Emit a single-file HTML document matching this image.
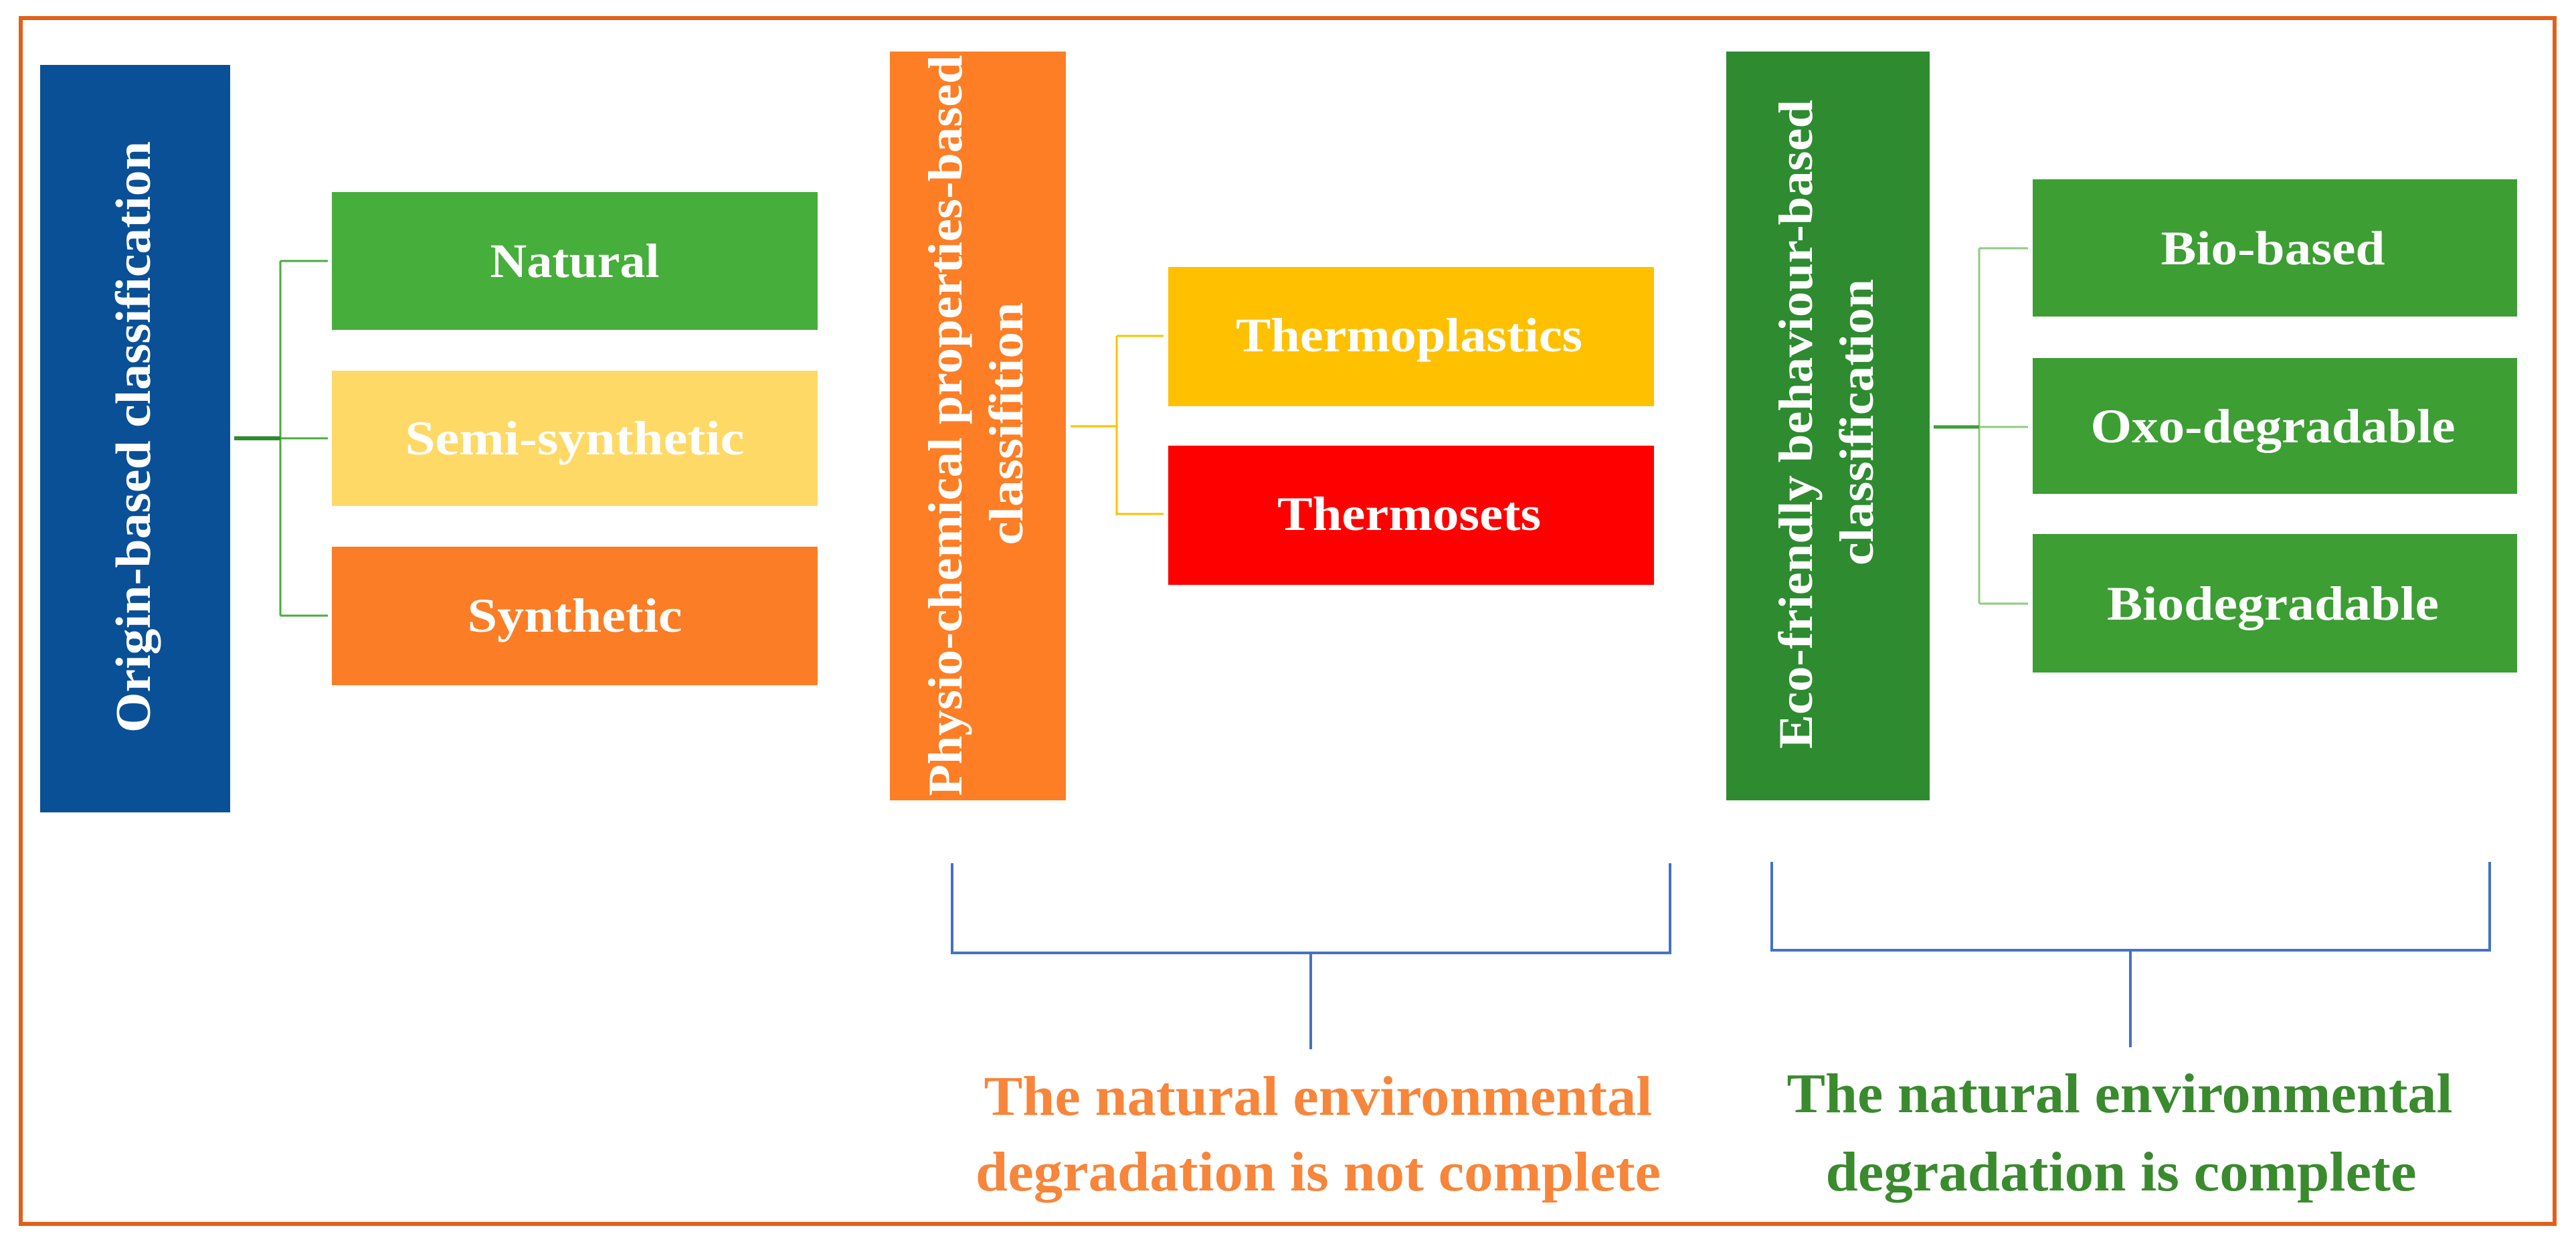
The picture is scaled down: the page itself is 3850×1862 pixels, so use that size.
<!DOCTYPE html>
<html><head><meta charset="utf-8"><style>html,body{margin:0;padding:0;background:#fff}svg{display:block}</style></head>
<body>
<svg width="3850" height="1862" viewBox="0 0 3850 1862" xmlns="http://www.w3.org/2000/svg" font-family="'Liberation Serif', serif" font-weight="bold">
<rect x="0" y="0" width="3850" height="1862" fill="#fff"/>
<rect x="31" y="27" width="3787" height="1802" fill="none" stroke="#E2601A" stroke-width="6"/>

<!-- Left section -->
<rect x="60" y="97" width="284" height="1117" fill="#0A5097"/>
<text transform="translate(224,653) rotate(-90)" text-anchor="middle" font-size="74" fill="#fff" textLength="884" lengthAdjust="spacingAndGlyphs">Origin-based classification</text>
<g stroke="#46AE3A" stroke-width="3" fill="none">
<path d="M419 390 V920 M419 390 H490 M419 655 H490 M419 920 H490"/>
</g>
<line x1="350" y1="655" x2="419" y2="655" stroke="#2E8B30" stroke-width="6"/>
<rect x="496" y="287" width="726" height="206" fill="#46AE3A"/>
<rect x="496" y="554" width="726" height="202" fill="#FFD966"/>
<rect x="496" y="817" width="726" height="207" fill="#FB7D25"/>
<g fill="#fff" font-size="72" text-anchor="middle">
<text x="859" y="414" textLength="253" lengthAdjust="spacingAndGlyphs">Natural</text>
<text x="859" y="679" textLength="507" lengthAdjust="spacingAndGlyphs">Semi-synthetic</text>
<text x="859" y="944" textLength="321" lengthAdjust="spacingAndGlyphs">Synthetic</text>
</g>

<!-- Middle section -->
<rect x="1330" y="77" width="263" height="1119" fill="#FD7E25"/>
<text transform="translate(1437,636) rotate(-90)" text-anchor="middle" font-size="72" fill="#fff" textLength="1107" lengthAdjust="spacingAndGlyphs">Physio-chemical properties-based</text>
<text transform="translate(1528,633) rotate(-90)" text-anchor="middle" font-size="72" fill="#fff" textLength="363" lengthAdjust="spacingAndGlyphs">classifition</text>
<g stroke="#FFC000" stroke-width="3" fill="none">
<path d="M1600 637 H1669 M1669 502 V770 M1669 502 H1739 M1669 768 H1739"/>
</g>
<rect x="1746" y="399" width="726" height="208" fill="#FFC000"/>
<rect x="1746" y="666" width="726" height="208" fill="#FF0000"/>
<g fill="#fff" font-size="72" text-anchor="middle">
<text x="2106" y="525" textLength="518" lengthAdjust="spacingAndGlyphs">Thermoplastics</text>
<text x="2106" y="792" textLength="394" lengthAdjust="spacingAndGlyphs">Thermosets</text>
</g>
<g stroke="#4472C4" stroke-width="4" fill="none">
<path d="M1423 1290 V1424 H2496 V1290 M1959 1424 V1568"/>
</g>
<g fill="#F7853A" font-size="84" text-anchor="middle">
<text x="1970" y="1666" textLength="999" lengthAdjust="spacingAndGlyphs">The natural environmental</text>
<text x="1970" y="1779" textLength="1024" lengthAdjust="spacingAndGlyphs">degradation is not complete</text>
</g>

<!-- Right section -->
<rect x="2580" y="77" width="304" height="1119" fill="#2E8B30"/>
<text transform="translate(2708,634) rotate(-90)" text-anchor="middle" font-size="72" fill="#fff" textLength="970" lengthAdjust="spacingAndGlyphs">Eco-friendly behaviour-based</text>
<text transform="translate(2799,631) rotate(-90)" text-anchor="middle" font-size="72" fill="#fff" textLength="428" lengthAdjust="spacingAndGlyphs">classification</text>
<g stroke="#8FCC80" stroke-width="3" fill="none">
<path d="M2958 371 V902 M2958 371 H3031 M2958 638 H3031 M2958 902 H3031"/>
</g>
<line x1="2890" y1="638" x2="2958" y2="638" stroke="#3C9E33" stroke-width="5"/>
<rect x="3038" y="268" width="724" height="205" fill="#3C9E33"/>
<rect x="3038" y="535" width="724" height="203" fill="#3C9E33"/>
<rect x="3038" y="798" width="724" height="207" fill="#3C9E33"/>
<g fill="#fff" font-size="72" text-anchor="middle">
<text x="3397" y="395" textLength="335" lengthAdjust="spacingAndGlyphs">Bio-based</text>
<text x="3397" y="661" textLength="545" lengthAdjust="spacingAndGlyphs">Oxo-degradable</text>
<text x="3397" y="926" textLength="496" lengthAdjust="spacingAndGlyphs">Biodegradable</text>
</g>
<g stroke="#4472C4" stroke-width="4" fill="none">
<path d="M2648 1288 V1420 H3721 V1288 M3184 1420 V1565"/>
</g>
<g fill="#3A8A2E" font-size="84" text-anchor="middle">
<text x="3168" y="1662" textLength="995" lengthAdjust="spacingAndGlyphs">The natural environmental</text>
<text x="3170" y="1779" textLength="883" lengthAdjust="spacingAndGlyphs">degradation is complete</text>
</g>
</svg>
</body></html>
